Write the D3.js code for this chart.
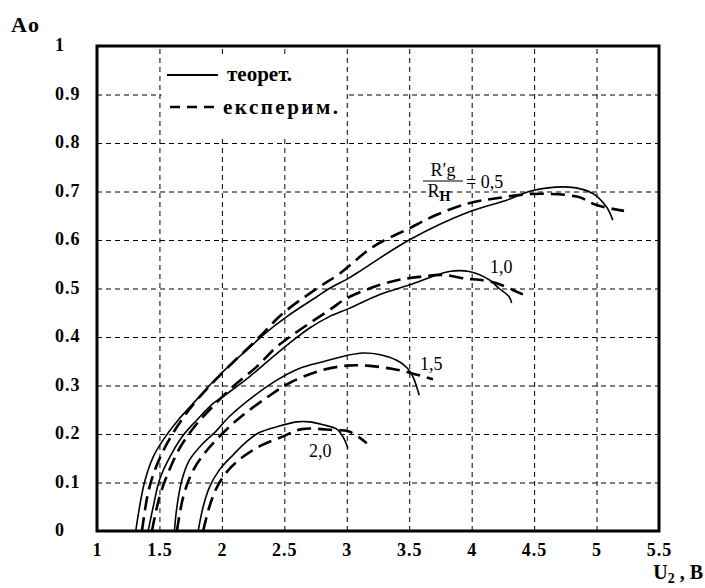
<!DOCTYPE html>
<html>
<head>
<meta charset="utf-8">
<script src="https://cdn.jsdelivr.net/npm/d3@7"></script>
<style>
	body { margin: 0; background: #fff; }
	svg text { font-family: "Liberation Serif", "Times New Roman", serif; fill: #000; }
</style>
</head>
<body>
<svg id="chart" width="705" height="588"></svg>
<script>

var serif = "'Liberation Serif', 'Times New Roman', serif";

// tick values
var xTicks = [1, 1.5, 2, 2.5, 3, 3.5, 4, 4.5, 5, 5.5];
var yTicks = [0, 0.1, 0.2, 0.3, 0.4, 0.5, 0.6, 0.7, 0.8, 0.9, 1];

// curve labels (R'g / RH)
var ratios = ["0,5", "1,0", "1,5", "2,0"];

// theoretical curves [U2, Ao]
var teor05 = [[1.31,0],[1.38,0.10],[1.45,0.153],[1.53,0.188],[1.65,0.229],[1.76,0.26],[1.9,0.30],[2.08,0.346],[2.2,0.373],[2.33,0.404],[2.52,0.442],[2.76,0.483],[2.86,0.50],[3.02,0.522],[3.13,0.54],[3.5,0.60],[3.98,0.658],[4.28,0.682],[4.49,0.702],[4.78,0.709],[4.97,0.696],[5.08,0.668],[5.13,0.641]];
var teor10 = [[1.41,0],[1.45,0.05],[1.5,0.105],[1.57,0.146],[1.68,0.194],[1.8,0.229],[1.93,0.263],[2.04,0.283],[2.22,0.318],[2.38,0.353],[2.54,0.387],[2.7,0.418],[2.86,0.442],[3.02,0.459],[3.26,0.487],[3.5,0.507],[3.82,0.535],[3.98,0.535],[4.14,0.518],[4.22,0.50],[4.3,0.483],[4.32,0.47]];
var teor15 = [[1.62,0],[1.64,0.05],[1.68,0.105],[1.74,0.146],[1.85,0.181],[1.95,0.205],[2.06,0.236],[2.25,0.277],[2.44,0.311],[2.62,0.335],[2.81,0.349],[3.0,0.362],[3.13,0.367],[3.26,0.364],[3.4,0.352],[3.48,0.337],[3.53,0.318],[3.58,0.28]];
var teor20 = [[1.81,0],[1.85,0.05],[1.9,0.09],[1.98,0.126],[2.09,0.157],[2.2,0.185],[2.3,0.203],[2.44,0.215],[2.6,0.225],[2.7,0.225],[2.81,0.219],[2.92,0.21],[2.97,0.194],[3.01,0.17]];

// experimental curves [U2, Ao]
var eksp05 = [[1.36,0],[1.41,0.08],[1.47,0.13],[1.56,0.18],[1.68,0.23],[1.8,0.27],[1.98,0.32],[2.3,0.40],[2.49,0.449],[2.76,0.50],[2.94,0.53],[3.21,0.586],[3.5,0.624],[3.72,0.652],[3.98,0.676],[4.2,0.686],[4.49,0.695],[4.85,0.689],[5.0,0.672],[5.22,0.66]];
var eksp10 = [[1.44,0],[1.5,0.07],[1.57,0.12],[1.66,0.17],[1.78,0.215],[1.92,0.255],[2.09,0.298],[2.28,0.339],[2.44,0.38],[2.62,0.414],[2.88,0.459],[3.0,0.48],[3.26,0.507],[3.42,0.518],[3.58,0.524],[3.77,0.528],[3.96,0.52],[4.06,0.518],[4.2,0.511],[4.33,0.497],[4.41,0.488]];
var eksp15 = [[1.64,0],[1.69,0.07],[1.76,0.12],[1.86,0.16],[2.0,0.2],[2.15,0.235],[2.37,0.277],[2.54,0.305],[2.78,0.33],[3.0,0.341],[3.16,0.341],[3.37,0.334],[3.48,0.328],[3.69,0.313]];
var eksp20 = [[1.85,0],[1.9,0.05],[1.96,0.09],[2.05,0.125],[2.18,0.155],[2.32,0.177],[2.48,0.194],[2.64,0.21],[2.89,0.208],[3.02,0.205],[3.16,0.181]];

var margin = { top: 46, right: 46, bottom: 57, left: 97 };
var width = 705 - margin.left - margin.right;
var height = 588 - margin.top - margin.bottom;

var svg = d3.select("#chart");
var g = svg.append("g").attr("transform", `translate(${margin.left},${margin.top})`);

var x = d3.scaleLinear().domain([1, 5.5]).range([0, width]);
var y = d3.scaleLinear().domain([0, 1]).range([height, 0]);

// grid
g.append("g")
	.attr("class", "gridX")
	.attr("transform", `translate(0,${height})`)
	.call(d3.axisBottom(x).tickValues(xTicks.slice(1, -1)).tickSize(-height).tickFormat(""));

g.append("g")
	.attr("class", "gridY")
	.call(d3.axisLeft(y).tickValues(yTicks.slice(1, -1)).tickSize(-width).tickFormat(""));

g.selectAll(".gridX .domain, .gridY .domain").remove();
g.selectAll(".gridX line, .gridY line")
	.attr("stroke", "#000")
	.attr("stroke-width", 1)
	.attr("stroke-dasharray", "5,4");

// legend background hides the grid behind it
g.append("rect")
	.attr("x", x(1.5) + 2).attr("y", 12)
	.attr("width", x(3) - x(1.5) - 3).attr("height", 78)
	.attr("fill", "#fff");

// tick labels
var xAxis = g.append("g")
	.attr("transform", `translate(0,${height})`)
	.call(d3.axisBottom(x).tickValues(xTicks).tickSize(0).tickPadding(12).tickFormat(d => String(d)));

var yAxis = g.append("g")
	.call(d3.axisLeft(y).tickValues(yTicks).tickSize(0).tickFormat(d => (d === 0 || d === 1) ? String(d) : d.toFixed(1)));

xAxis.select(".domain").remove();
yAxis.select(".domain").remove();
xAxis.attr("font-family", null);
yAxis.attr("font-family", null);

xAxis.selectAll("text")
	.style("font-family", serif)
	.style("font-size", "18px")
	.style("font-weight", "bold")
	.style("letter-spacing", "1px");

yAxis.selectAll("text")
	.attr("x", 55 - margin.left)
	.attr("dy", "0.25em")
	.attr("text-anchor", "start")
	.style("font-family", serif)
	.style("font-size", "18px")
	.style("font-weight", "bold")
	.style("letter-spacing", "1px");

// curves
var line = d3.line()
	.x(d => x(d[0]))
	.y(d => y(d[1]))
	.curve(d3.curveCatmullRom.alpha(0.5));

[teor05, teor10, teor15, teor20].forEach( c => {
	g.append("path")
		.datum(c)
		.attr("d", line)
		.attr("fill", "none")
		.attr("stroke", "#000")
		.attr("stroke-width", 1.6);
});

[eksp05, eksp10, eksp15, eksp20].forEach( c => {
	g.append("path")
		.datum(c)
		.attr("d", line)
		.attr("fill", "none")
		.attr("stroke", "#000")
		.attr("stroke-width", 2.6)
		.attr("stroke-dasharray", "14,7");
});

// frame
g.append("rect")
	.attr("width", width).attr("height", height)
	.attr("fill", "none")
	.attr("stroke", "#000")
	.attr("stroke-width", 3);

// legend
var leg = svg.append("g");
leg.append("line")
	.attr("x1", 167).attr("x2", 218).attr("y1", 75).attr("y2", 75)
	.attr("stroke", "#000").attr("stroke-width", 2);
leg.append("line")
	.attr("x1", 170).attr("x2", 218).attr("y1", 107).attr("y2", 107)
	.attr("stroke", "#000").attr("stroke-width", 2.5)
	.attr("stroke-dasharray", "10,7");
leg.append("text")
	.attr("x", 227).attr("y", 81)
	.style("font-size", "21px").style("font-weight", "bold")
	.text("теорет.");
leg.append("text")
	.attr("x", 223).attr("y", 114)
	.style("font-size", "21px").style("font-weight", "bold")
	.style("letter-spacing", "2.5px")
	.text("експерим.");

// axis titles
svg.append("text")
	.attr("x", 11).attr("y", 32)
	.style("font-size", "22px").style("font-weight", "bold")
	.style("letter-spacing", "1px")
	.text("Ao");

var ut = svg.append("text")
	.attr("x", 703).attr("y", 579)
	.attr("text-anchor", "end")
	.style("font-size", "20px").style("font-weight", "bold");
ut.append("tspan").text("U");
ut.append("tspan").attr("dy", 4).style("font-size", "14px").text("2");
ut.append("tspan").attr("dy", -4).text(" , B");

// curve annotations
var ann = svg.append("g").style("font-size", "18px");
var fx = 443;
ann.append("text")
	.attr("x", fx).attr("y", 176)
	.attr("text-anchor", "middle")
	.text("R′g");
ann.append("line")
	.attr("x1", fx - 20).attr("x2", fx + 20).attr("y1", 181).attr("y2", 181)
	.attr("stroke", "#000").attr("stroke-width", 1);
var rh = ann.append("text")
	.attr("x", fx - 4).attr("y", 197)
	.attr("text-anchor", "middle");
rh.append("tspan").text("R");
rh.append("tspan").attr("dy", 4).style("font-size", "14px").style("font-weight", "bold").text("H");
ann.append("text")
	.attr("x", 466).attr("y", 188)
	.text("= " + ratios[0]);

ann.append("text").attr("x", 490).attr("y", 273).text(ratios[1]);
ann.append("text").attr("x", 420).attr("y", 370).text(ratios[2]);
ann.append("text").attr("x", 309).attr("y", 457).text(ratios[3]);

</script>
</body>
</html>
